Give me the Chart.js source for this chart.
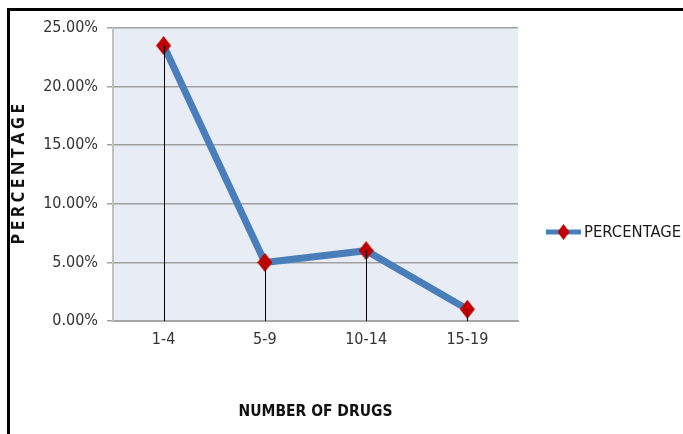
<!DOCTYPE html>
<html>
<head>
<meta charset="utf-8">
<script src="https://cdn.jsdelivr.net/npm/chart.js@4/dist/chart.umd.min.js"></script>
<style>
  html, body { margin: 0; padding: 0; background: #fff; }
  #wrap { position: relative; width: 683px; height: 434px; overflow: hidden; }
  #frame { position: absolute; left: 7px; top: 8px; width: 700px; height: 500px;
           border-top: 3px solid #000; border-left: 3px solid #000; pointer-events: none; }
  canvas { position: absolute; left: 0; top: 0; }
</style>
</head>
<body>
<div id="wrap">
  <canvas id="c" width="683" height="434"></canvas>
  <div id="frame"></div>
</div>
<script>
// Share of patients by number of drugs prescribed
const categories = ['1-4', '5-9', '10-14', '15-19'];
const percentages = [23.5, 5.0, 6.0, 1.0];
const seriesName = 'PERCENTAGE';
const xTitle = 'NUMBER OF DRUGS';
const yTitle = 'PERCENTAGE';

const narrow = '"Liberation Sans Narrow", "DejaVu Sans Condensed", Arial, sans-serif';
const markerRed = '#c00000';

// Tall diamond marker
function diamond(w, h, color) {
  const c = document.createElement('canvas');
  c.width = w; c.height = h;
  const g = c.getContext('2d');
  g.fillStyle = color;
  g.beginPath();
  g.moveTo(w / 2, 0);
  g.lineTo(w, h / 2);
  g.lineTo(w / 2, h);
  g.lineTo(0, h / 2);
  g.closePath();
  g.fill();
  return c;
}
const marker = diamond(15, 19, markerRed);

// Plot background, drop lines, spaced y-axis title and the legend on the right
const decorations = {
  id: 'decorations',
  beforeDraw(chart) {
    const a = chart.chartArea, ctx = chart.ctx;
    ctx.save();
    ctx.fillStyle = '#e8ecf4';
    ctx.fillRect(a.left, a.top, a.right - a.left, a.bottom - a.top);
    ctx.restore();
  },
  afterDraw(chart) {
    const a = chart.chartArea, ctx = chart.ctx;
    ctx.save();
    ctx.translate(19, (a.top + a.bottom) / 2);
    ctx.rotate(-Math.PI / 2);
    ctx.fillStyle = '#111';
    ctx.font = 'bold 17px "Open Sans", "DejaVu Sans", sans-serif';
    ctx.letterSpacing = '3.5px';
    ctx.textAlign = 'center';
    ctx.textBaseline = 'middle';
    ctx.fillText(yTitle, 2, 0);
    ctx.restore();
  },
  afterDatasetsDraw(chart) {
    const ctx = chart.ctx;
    const meta = chart.getDatasetMeta(0);
    const yBase = chart.scales.y.getPixelForValue(0);
    ctx.save();
    ctx.strokeStyle = '#000';
    ctx.lineWidth = 1;
    meta.data.forEach(pt => {
      const x = Math.round(pt.x) + 0.5;
      ctx.beginPath();
      ctx.moveTo(x, pt.y);
      ctx.lineTo(x, yBase);
      ctx.stroke();
    });
    // legend entry
    const ds = chart.data.datasets[0];
    const ly = 232, lx0 = 546, lx1 = 581;
    ctx.strokeStyle = ds.borderColor;
    ctx.lineWidth = 5;
    ctx.lineCap = 'butt';
    ctx.beginPath();
    ctx.moveTo(lx0, ly);
    ctx.lineTo(lx1, ly);
    ctx.stroke();
    const cx = (lx0 + lx1) / 2;
    ctx.drawImage(marker, cx - 6, ly - 8, 12, 16);
    ctx.fillStyle = '#1a1a1a';
    ctx.font = '16.5px ' + narrow;
    ctx.textBaseline = 'middle';
    ctx.textAlign = 'left';
    ctx.fillText(ds.label, 584, ly + 1);
    ctx.restore();
  }
};

new Chart(document.getElementById('c'), {
  type: 'line',
  data: {
    labels: categories,
    datasets: [{
      label: seriesName,
      data: percentages,
      borderColor: '#4a7ebb',
      borderWidth: 7,
      tension: 0,
      pointStyle: marker,
      pointRadius: 8,
      pointHoverRadius: 8,
      pointBackgroundColor: markerRed
    }]
  },
  options: {
    responsive: false,
    animation: false,
    events: [],
    layout: { padding: { left: 0, top: 28, right: 165, bottom: 0 } },
    plugins: { legend: { display: false }, tooltip: { enabled: false } },
    scales: {
      x: {
        offset: true,
        grid: { display: false, drawTicks: false },
        border: { display: true, color: '#a6a6a6', width: 2 },
        ticks: { color: '#333', font: { family: narrow, size: 16 }, padding: 9 },
        title: { display: true, text: xTitle, color: '#111',
                 font: { family: narrow, size: 15.5, weight: 'bold' }, padding: { top: 4, bottom: 13 } },
        afterFit(s) { s.height = 434 - 321; }
      },
      y: {
        min: 0, max: 25,
        ticks: { stepSize: 5, color: '#333', font: { family: narrow, size: 16 }, padding: 9,
                 callback: v => v.toFixed(2) + '%' },
        grid: { color: '#a0a0a0', lineWidth: 1.5, tickLength: 6, tickColor: '#a0a0a0' },
        border: { display: true, color: '#c0c0c0', width: 2 },
        title: { display: false },
        afterFit(s) { s.width = 113; }
      }
    }
  },
  plugins: [decorations]
});
</script>
</body>
</html>
